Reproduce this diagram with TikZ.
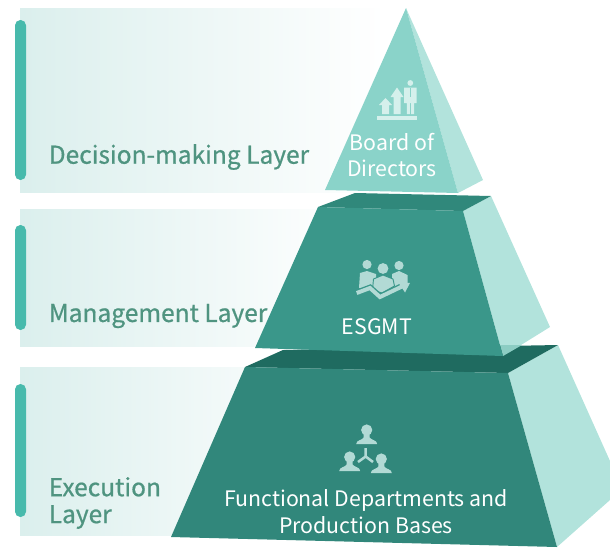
\documentclass[tikz,border=0pt]{standalone}
\usepackage{fontspec}
\setmainfont{Noto Sans CJK SC}
\newfontfamily\labelfont[FakeBold=0.7]{Noto Sans CJK SC}
\usetikzlibrary{calc}
\definecolor{barc}{HTML}{48BAAC}
\definecolor{panelc}{HTML}{DBEFED}
\definecolor{labelc}{HTML}{4F9480}
\definecolor{topfront}{HTML}{8AD3C9}
\definecolor{sidec}{HTML}{B2E3DC}
\definecolor{overlapc}{HTML}{8CCDC3}
\definecolor{midfront}{HTML}{3A978A}
\definecolor{midtop}{HTML}{30887B}
\definecolor{lowfront}{HTML}{31877B}
\definecolor{lowtop}{HTML}{1F6B60}
\definecolor{icontop}{HTML}{D5F0EC}
\definecolor{iconlow}{HTML}{B2DAD5}
\tikzset{
  x=0.75pt,y=-0.75pt,
  panel/.style={left color=panelc,right color=white,draw=none},
  bar/.style={fill=barc,draw=none,rounded corners=4pt},
  layerlabel/.style={text=labelc,font=\fontsize{18.4}{20.2}\labelfont,anchor=west,align=left,inner sep=0pt},
  tierlabel/.style={text=white,font=\fontsize{16}{20}\selectfont,align=center,inner sep=0pt},
  person/.pic={
    \fill (0,0) circle (5.6);
    \fill (-10.5,14) .. controls (-10.5,10) and (-4,10) .. (-3,7.5) -- (-3,3) -- (3,3) -- (3,7.5) .. controls (4,10) and (10.5,10) .. (10.5,14) -- cycle;
  },
}
\begin{document}
\begin{tikzpicture}
\useasboundingbox (0,0) rectangle (610,547);
% panels
\fill[panel] (20,8) rectangle (385,192);
\fill[panel] (20,209) rectangle (350,346);
\fill[panel] (20,367) rectangle (340,535);
\fill[bar] (15,20) rectangle (26,180);
\fill[bar] (15,225) rectangle (26,330);
\fill[bar] (15,384) rectangle (26,517);
% bottom tier
\fill[sidec] (508,373) -- (558,345) -- (610,461) -- (610,500) -- (557,547) -- cycle;
\fill[lowtop] (245,367) -- (283,350) -- (558,345) -- (508,373) -- cycle;
\fill[lowfront] (245,367) -- (508,373) -- (557,547) -- (171,537) -- cycle;
% middle tier
\fill[sidec] (463,211) -- (491,196) -- (550,327) -- (521,345) -- (500,345) -- cycle;
\fill[overlapc] (500,345) -- (522,345) -- (503,356) -- cycle;
\fill[midtop] (318,207) -- (355,193) -- (491,196) -- (463,211) -- cycle;
\fill[midfront] (318,207) -- (463,211) -- (503,356) -- (255,348) -- cycle;
% top tier
\fill[sidec] (406,8) -- (483,180) -- (458,193) -- cycle;
\fill[topfront] (406,8) -- (458,193) -- (325,190) -- cycle;
% labels
\node[layerlabel] (l1) at (48.5,157) {Decision-making Layer};
\node[layerlabel] (l2) at (48.5,316) {Management Layer};
\node[layerlabel] (l3) at (48.5,503) {Execution\\Layer};
\node[tierlabel,font=\fontsize{16}{19.5}\selectfont] (t1) at (392,155.5) {Board of\\Directors};
\node[tierlabel] (t2) at (377,326.5) {ESGMT};
\node[tierlabel] (t3) at (366,511.5) {Functional Departments and\\Production Bases};
% top icon
\begin{scope}[fill=icontop]
\fill (377,116) rectangle (417,119.5);
\fill (382,114) -- (382,105) -- (379,105) -- (385.5,98) -- (392,105) -- (389,105) -- (389,114) -- cycle;
\fill (393.5,114) -- (393.5,97) -- (390.5,97) -- (397,87.5) -- (403.5,97) -- (400.5,97) -- (400.5,114) -- cycle;
\fill (410.3,83) circle (2.9);
\fill (404,87.5) -- (416.5,87.5) -- (416.5,103) -- (414,103) -- (414,114) -- (411,114) -- (411,103) -- (409.8,103) -- (409.8,114) -- (406.8,114) -- (406.8,103) -- (404,103) -- cycle;
\fill[topfront] (409.7,87.5) -- (411,87.5) -- (411,97) -- (409.7,97) -- cycle;
\end{scope}
% middle icon
\begin{scope}[fill=iconlow]
\fill (367,264.5) circle (4.6);
\fill (383,268.5) circle (5.4);
\fill (399,265.5) circle (4.6);
\fill (359,288) -- (360,273) -- (367,271) -- (376,274) -- (376,288) -- cycle;
\fill (392,274) -- (399,271) -- (407.5,275) -- (407.5,284) -- (392,288) -- cycle;
\filldraw[draw=midfront,line width=0.7pt] (372.5,290) -- (373.5,279) -- (383,275) -- (393,279) -- (394.5,286) -- (382,293) -- cycle;
\draw[midfront,line width=5pt] (356.7,293) -- (370,288) -- (380,297) -- (403,286);
\draw[iconlow,line width=3pt] (356.7,293) -- (370,288) -- (380,297) -- (403,286);
\fill (398,282) -- (410,283) -- (405,292.5) -- cycle;
\end{scope}
% bottom icon
\begin{scope}[fill=iconlow]
\pic[fill=iconlow] at (366.7,430) {person};
\pic[fill=iconlow] at (349.7,457) {person};
\pic[fill=iconlow] at (381.3,459) {person};
\draw[iconlow,line width=1.9pt] (365.7,448) -- (365.7,456.5) -- (358,462) (365.7,456.5) -- (373,462);
\end{scope}
\end{tikzpicture}
\end{document}
